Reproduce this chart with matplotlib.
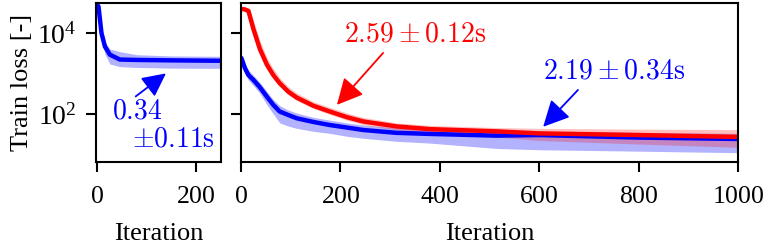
import numpy as np
import matplotlib
matplotlib.use("Agg")
import matplotlib.pyplot as plt

plt.rcParams['font.family'] = 'serif'
plt.rcParams['font.serif'] = ['Liberation Serif', 'DejaVu Serif']
plt.rcParams['mathtext.fontset'] = 'stix'
plt.rcParams['axes.formatter.use_mathtext'] = True
plt.rcParams['font.size'] = 18

# stage 1 (left panel), blue only
it1   = [0, 3, 9, 16, 26, 46, 80, 150, 250]
blue1 = [50000, 45000, 10000, 4600, 2900, 2200, 2150, 2100, 2050]
blue1_lo = [45000, 38000, 7500, 3000, 1700, 1470, 1400, 1350, 1330]
blue1_hi = [55000, 52000, 13000, 6000, 4000, 3450, 2900, 2700, 2640]

# stage 2 (right panel)
it2  = [0, 1, 8, 15, 25, 38, 52, 65, 78, 95, 112, 146, 179, 213, 246, 313, 380, 514, 600, 800, 1000]
blue = [2400, 2370, 1340, 910, 690, 455, 267, 167, 114, 94, 78, 63, 53, 46, 40, 34, 32, 29, 30, 26, 24]
blue_lo = [1900, 1850, 1000, 680, 500, 320, 170, 100, 60, 50, 44, 37, 33, 28, 25, 21, 19, 14, 13, 12, 11]
blue_hi = [3000, 2950, 1750, 1200, 900, 600, 360, 225, 160, 125, 105, 82, 70, 60, 53, 45, 41, 38, 37, 35, 33]

red = [39000, 39000, 38000, 35000, 12500, 4000, 1650, 910, 570, 355, 253, 158, 114, 83, 65, 49, 42, 37, 33, 30, 27]
red_lo = [36000, 36000, 35000, 31000, 10500, 3300, 1400, 780, 490, 300, 215, 135, 97, 70, 54, 40, 33, 27, 22, 18, 15]
red_hi = [42000, 42000, 41000, 40000, 20000, 6500, 2500, 1300, 780, 470, 330, 200, 145, 105, 82, 60, 52, 46, 44, 42, 41]

fig = plt.figure(figsize=(7.65, 2.45), dpi=100)
ax1 = fig.add_axes([0.1255, 0.339, 0.1634, 0.649])
ax2 = fig.add_axes([0.315, 0.339, 0.6497, 0.649])

ax1.fill_between(it1, blue1_lo, blue1_hi, color='blue', alpha=0.3, lw=0)
ax1.plot(it1, blue1, color='blue', lw=3.2)

ax2.fill_between(it2, blue_lo, blue_hi, color='blue', alpha=0.3, lw=0)
ax2.fill_between(it2, red_lo, red_hi, color='red', alpha=0.25, lw=0)
ax2.plot(it2, blue, color='blue', lw=3.2)
ax2.plot(it2, red, color='red', lw=3.2)

for ax in (ax1, ax2):
    ax.set_yscale('log')
    ax.set_ylim(6.5, 55000)
    ax.set_yticks([1e2, 1e4])
    ax.minorticks_off()
    ax.tick_params(direction='out', length=7, width=1.5, pad=7)
    ax.tick_params(axis='x', labelsize=18.5, pad=10)
    ax.tick_params(axis='y', labelsize=20)
    for s in ax.spines.values():
        s.set_linewidth(1.5)
    ax.set_xlabel("Iteration", fontsize=19, labelpad=11)

ax1.set_xlim(-2, 250)
ax1.set_xticks([0, 200])
ax1.set_ylabel("Train loss [-]", fontsize=19, labelpad=3)
ax2.set_xlim(0, 1000)
ax2.set_xticks([0, 200, 400, 600, 800, 1000])
ax2.set_yticklabels([])

cm = dict(fontsize=20, math_fontfamily='cm', va='center')
arrow = '-|>,head_length=0.8,head_width=0.4'
ax1.annotate("", xy=(139, 1000), xytext=(78, 270),
             arrowprops=dict(arrowstyle=arrow, mutation_scale=18, lw=1.3, color='blue',
                             shrinkA=0, shrinkB=0))
ax1.text(30, 112, r"$0.34$", color='blue', ha='left', **cm)
ax1.text(70, 23, r"$\pm 0.11\mathrm{s}$", color='blue', ha='left', **cm)

ax2.annotate("", xy=(193, 167), xytext=(286, 3200),
             arrowprops=dict(arrowstyle=arrow, mutation_scale=20, lw=1.3, color='red',
                             shrinkA=0, shrinkB=0))
ax2.text(350, 8900, r"$2.59 \pm 0.12\mathrm{s}$", color='red', ha='center', **cm)

ax2.annotate("", xy=(608, 48), xytext=(678, 390),
             arrowprops=dict(arrowstyle=arrow, mutation_scale=20, lw=1.3, color='blue',
                             shrinkA=0, shrinkB=0))
ax2.text(750, 1090, r"$2.19 \pm 0.34\mathrm{s}$", color='blue', ha='center', **cm)

fig.savefig("out.png", dpi=100)
